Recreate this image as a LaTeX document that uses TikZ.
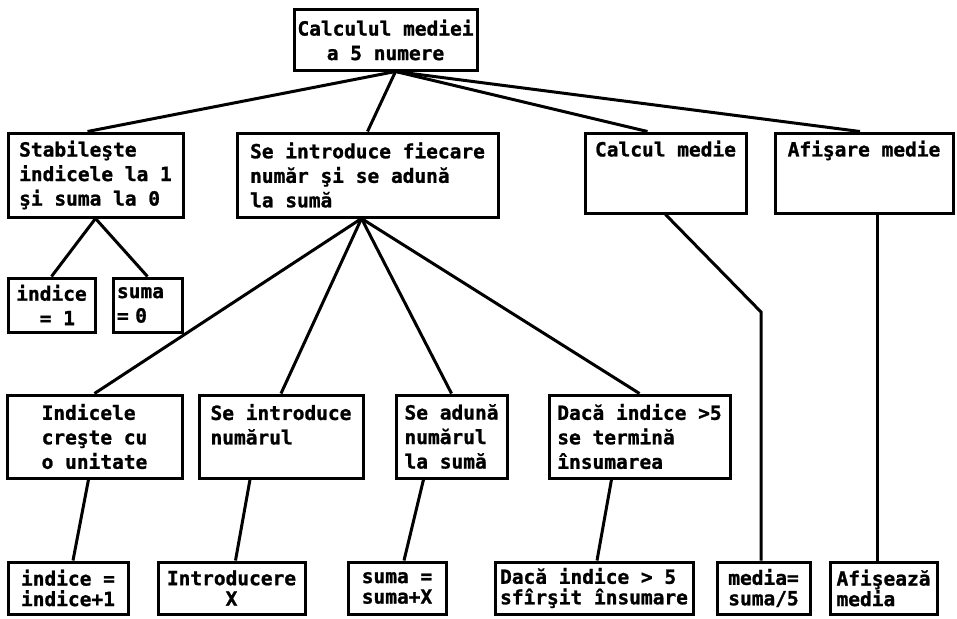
\documentclass[tikz,border=0pt]{standalone}
\usepackage{fontspec}
\newfontfamily\tiparfont{DejaVu Sans Mono}[BoldFeatures={FakeBold=1.2}]
\usetikzlibrary{positioning}
\tikzset{
  modul/.style={draw=black,line width=3pt,align=left,inner sep=0pt,
    font=\tiparfont\bfseries\fontsize{19.5}{#1}\selectfont},
  modul/.default=24.5,
  legatura/.style={draw=black,line width=3pt},
}
\begin{document}
\begin{tikzpicture}[x=1pt,y=-1pt]
  \useasboundingbox (0,0) rectangle (957,618);
  % nivelul 1 si 2
  \node[modul,align=center,minimum width=183pt,minimum height=60pt] (calc) at (385.5,40) {Calculul mediei\\a 5 numere};
  \node[modul,minimum width=175pt,minimum height=84pt] (stab) at (95.5,175) {Stabileşte\\indicele la 1\\şi suma la 0};
  \node[modul,minimum width=261pt,minimum height=84pt] (intro) at (367.5,175) {Se introduce fiecare\\număr şi se adună\\la sumă};
  \node[modul,minimum width=161pt,minimum height=80pt] (medie) at (665.5,173) {Calcul medie\\~\\~};
  \node[modul,minimum width=178pt,minimum height=80pt] (afis) at (864,173) {Afişare medie\\~\\~};
  \draw[legatura] ([xshift=10pt]calc.south) -- ([xshift=-8pt]stab.north);
  \draw[legatura] ([xshift=10pt]calc.south) -- (intro.north);
  \draw[legatura] ([xshift=10pt]calc.south) -- ([xshift=-18pt]medie.north);
  \draw[legatura] ([xshift=10pt]calc.south) -- ([xshift=-4pt]afis.north);
  % initializare
  \node[modul,minimum width=87pt,minimum height=54pt] (ind) at (51.5,305) {indice\\~~= 1};
  \node[modul,inner xsep=4pt,text width=61pt,minimum height=54pt] (sum) at (147.5,305) {suma\\= 0};
  \draw[legatura] (stab.south) -- (ind.north); \draw[legatura] (stab.south) -- (sum.north);
  % nivelul 3
  \node[modul,minimum width=175pt,minimum height=83pt] (creste) at (94.5,436.5) {Indicele\\creşte cu\\o unitate};
  \node[modul,minimum width=164pt,minimum height=83pt] (citeste) at (281,436.5) {Se introduce\\numărul\\~};
  \node[modul,minimum width=111pt,minimum height=83pt] (aduna) at (451.5,436.5) {Se adună\\numărul\\la sumă};
  \node[modul,minimum width=181pt,minimum height=83pt] (test) at (639.5,436.5) {Dacă indice >5\\se termină\\însumarea};
  \draw[legatura] ([xshift=-6pt]intro.south) -- (creste.north);
  \draw[legatura] ([xshift=-6pt]intro.south) -- (citeste.north);
  \draw[legatura] ([xshift=-6pt]intro.south) -- (aduna.north);
  \draw[legatura] ([xshift=-6pt]intro.south) -- (test.north);
  % instructiuni
  \node[modul=20.5,minimum width=120pt,minimum height=52pt] (incr) at (68,588) {indice =\\indice+1};
  \node[modul=20.5,align=center,minimum width=147pt,minimum height=52pt] (citX) at (231.5,588) {Introducere\\X};
  \node[modul=20.5,minimum width=98pt,minimum height=52pt] (adX) at (397,588) {suma =\\suma+X};
  \node[modul=20.5,minimum width=198pt,minimum height=52pt] (stop) at (594,588) {Dacă indice > 5\\sfîrşit însumare};
  \node[modul=20.5,minimum width=93pt,minimum height=52pt] (calcm) at (763.5,588) {media=\\suma/5};
  \node[modul=20.5,minimum width=107pt,minimum height=52pt] (afz) at (883.5,588) {Afişează\\media};
  \draw[legatura] ([xshift=-6pt]creste.south) -- ([xshift=5pt]incr.north);
  \draw[legatura] ([xshift=-31pt]citeste.south) -- ([xshift=4pt]citX.north);
  \draw[legatura] ([xshift=-28pt]aduna.south) -- ([xshift=7pt]adX.north);
  \draw[legatura] ([xshift=-28pt]test.south) -- ([xshift=3pt]stop.north);
  \coordinate (cot) at (761,312);
  \draw[legatura] (medie.south) -- (cot) -- (cot |- calcm.north);
  \draw[legatura] ([xshift=13pt]afis.south) -- ([xshift=-6.5pt]afz.north);
\end{tikzpicture}
\end{document}
